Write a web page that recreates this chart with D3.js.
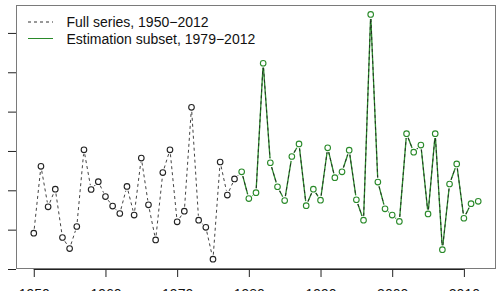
<!DOCTYPE html>
<html>
<head>
<meta charset="utf-8">
<script src="https://cdn.jsdelivr.net/npm/d3@7"></script>
<style>
  html, body { margin: 0; padding: 0; background: #fff; overflow: hidden; }
  text { font-family: "Liberation Sans", Arial, sans-serif; }
</style>
</head>
<body>
<div id="chart"></div>
<script>
// data
let years = d3.range(1950, 2013);
let values = [
  0.91, 2.61, 1.58, 2.03, 0.80, 0.52, 1.08, 3.03, 2.02, 2.22,
  1.84, 1.60, 1.41, 2.10, 1.37, 2.82, 1.63, 0.74, 2.45, 3.03,
  1.20, 1.47, 4.11, 1.24, 1.06, 0.25, 2.72, 1.88, 2.29, 2.47,
  1.79, 1.94, 5.23, 2.70, 2.09, 1.74, 2.86, 3.18, 1.61, 2.03,
  1.75, 3.08, 2.32, 2.47, 3.02, 1.76, 1.24, 6.47, 2.21, 1.53,
  1.37, 1.21, 3.44, 2.97, 3.15, 1.40, 3.44, 0.49, 2.16, 2.67,
  1.29, 1.66, 1.72
];
let xTicks = [1950, 1960, 1970, 1980, 1990, 2000, 2010];
let yTicks = [0, 1, 2, 3, 4, 5, 6];
let legendLabels = ["Full series, 1950\u22122012", "Estimation subset, 1979\u22122012"];
let subsetStart = 1979;

let svgWidth = 500;
let svgHeight = 291;

let box = { left: 16, right: 496, top: 5, bottom: 269 };

let svg = d3.select("#chart")
  .append("svg")
  .attr("width", svgWidth)
  .attr("height", svgHeight);

let full = years.map((yr, i) => ({ year: yr, value: values[i] }));
let subset = full.filter(d => d.year >= subsetStart);

// R style 4% padding on x
let xLinearScale = d3.scaleLinear()
  .domain([1947.52, 2014.48])
  .range([box.left, box.right]);

let yLinearScale = d3.scaleLinear()
  .domain([0, 6.71])
  .range([box.bottom, box.top]);

// axes
let bottomAxis = d3.axisBottom(xLinearScale)
  .tickValues(xTicks)
  .tickFormat(d3.format("d"))
  .tickSize(8)
  .tickPadding(12);

let leftAxis = d3.axisLeft(yLinearScale)
  .tickValues(yTicks)
  .tickSize(8)
  .tickPadding(14);

let xAxisG = svg.append("g")
  .attr("transform", `translate(0, ${box.bottom})`)
  .call(bottomAxis);

let yAxisG = svg.append("g")
  .attr("transform", `translate(${box.left}, 0)`)
  .call(leftAxis);

[xAxisG, yAxisG].forEach(g => {
  g.select(".domain").attr("stroke", "#222").attr("d", null);
  g.selectAll(".tick line").attr("stroke", "#222");
  g.selectAll(".tick text")
    .attr("fill", "#111")
    .attr("font-size", "14px")
    .attr("font-family", "'Liberation Sans', Arial, sans-serif");
});

// R style axis lines only between first and last tick
xAxisG.select(".domain")
  .attr("d", `M${xLinearScale(xTicks[0])},0.5H${xLinearScale(xTicks[xTicks.length - 1])}`);
yAxisG.select(".domain")
  .attr("d", `M0.5,${yLinearScale(yTicks[0])}V${yLinearScale(yTicks[yTicks.length - 1])}`);

// y labels sit parallel to the axis, beyond the cropped left edge
yAxisG.selectAll(".tick text")
  .attr("transform", "rotate(-90)")
  .attr("text-anchor", "middle")
  .attr("x", 0)
  .attr("dy", 0)
  .attr("y", -22);

// plot frame
svg.append("rect")
  .attr("x", box.left + 0.5)
  .attr("y", box.top + 0.5)
  .attr("width", box.right - box.left - 1)
  .attr("height", box.bottom - box.top - 1)
  .attr("fill", "none")
  .attr("stroke", "#7a7a7a");

// type="b" look: segments stop short of the points
let gap = 4.5;
function segments(data) {
  let out = [];
  for (let i = 0; i < data.length - 1; i++) {
    let x1 = xLinearScale(data[i].year), y1 = yLinearScale(data[i].value);
    let x2 = xLinearScale(data[i + 1].year), y2 = yLinearScale(data[i + 1].value);
    let len = Math.hypot(x2 - x1, y2 - y1);
    if (len <= 2 * gap) continue;
    let ux = (x2 - x1) / len, uy = (y2 - y1) / len;
    out.push({ x1: x1 + ux * gap, y1: y1 + uy * gap, x2: x2 - ux * gap, y2: y2 - uy * gap });
  }
  return out;
}

let green = "#2a8a2a";

svg.append("g")
  .selectAll("line")
  .data(segments(subset))
  .enter()
  .append("line")
  .attr("x1", d => d.x1).attr("y1", d => d.y1)
  .attr("x2", d => d.x2).attr("y2", d => d.y2)
  .attr("stroke", green)
  .attr("stroke-width", 1.3);

svg.append("g")
  .selectAll("line")
  .data(segments(full))
  .enter()
  .append("line")
  .attr("x1", d => d.x1).attr("y1", d => d.y1)
  .attr("x2", d => d.x2).attr("y2", d => d.y2)
  .attr("stroke", "#222")
  .attr("stroke-opacity", 0.85)
  .attr("stroke-width", 1)
  .attr("stroke-dasharray", "3,3");

// points
svg.append("g")
  .selectAll("circle")
  .data(full)
  .enter()
  .append("circle")
  .attr("cx", d => xLinearScale(d.year))
  .attr("cy", d => yLinearScale(d.value))
  .attr("r", 2.8)
  .attr("fill", "none")
  .attr("stroke", d => d.year >= subsetStart ? green : "#222")
  .attr("stroke-width", 1.1);

// legend
let legend = svg.append("g");
legend.append("line")
  .attr("x1", 28).attr("x2", 53)
  .attr("y1", 22).attr("y2", 22)
  .attr("stroke", "#333")
  .attr("stroke-dasharray", "3,3");
legend.append("line")
  .attr("x1", 28).attr("x2", 53)
  .attr("y1", 38.5).attr("y2", 38.5)
  .attr("stroke", green);
legend.selectAll("text")
  .data(legendLabels)
  .enter()
  .append("text")
  .attr("x", 66.5)
  .attr("y", (d, i) => 27 + i * 16.5)
  .attr("font-size", "14px")
  .attr("fill", "#111")
  .text(d => d);
</script>
</body>
</html>
